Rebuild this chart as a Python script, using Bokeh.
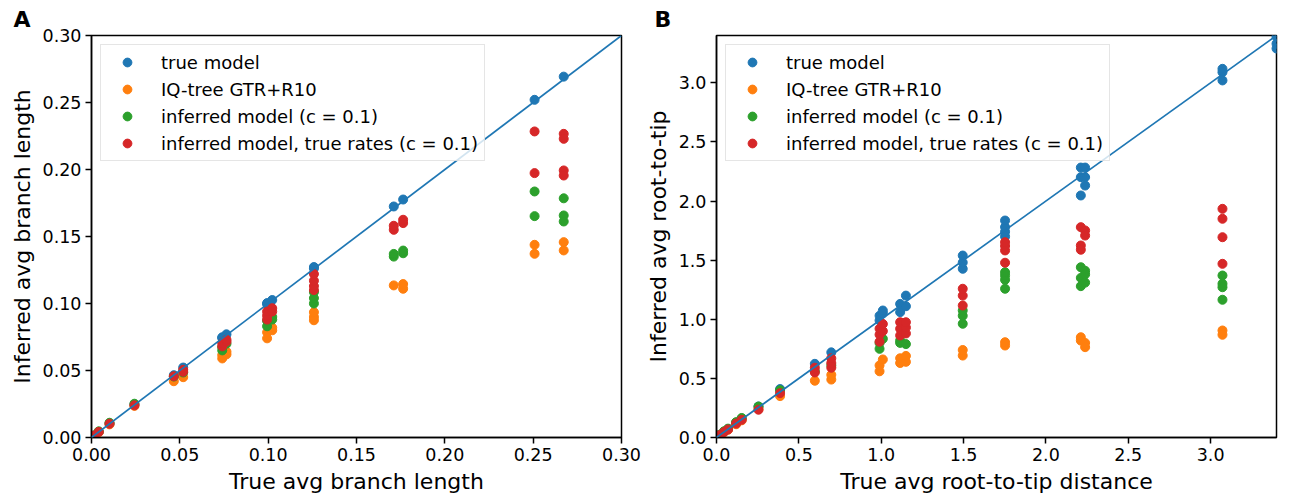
from bokeh.plotting import figure
from bokeh.layouts import row
from bokeh.models import (ColumnDataSource, Range1d, FixedTicker, NumeralTickFormatter,
                          Slope)
from bokeh.embed import file_html
from bokeh.resources import INLINE

# ---------------- data ----------------
series_names = ["true model", "IQ-tree GTR+R10", "inferred model (c = 0.1)",
                "inferred model, true rates (c = 0.1)"]
series_colors = ["#1f77b4", "#ff7f0e", "#2ca02c", "#d62728"]

# Panel A: average branch length
a_true_x = [0.0013, 0.0041, 0.0102, 0.0243, 0.0466, 0.0519, 0.0740, 0.0740, 0.0764, 0.0994,
            0.0994, 0.1023, 0.1259, 0.1259, 0.1711, 0.1764, 0.2508, 0.2673]
a_true_y = [0.0014, 0.0042, 0.0104, 0.0246, 0.0465, 0.0522, 0.0742, 0.0748, 0.0770, 0.0995,
            0.1003, 0.1026, 0.1262, 0.1272, 0.1724, 0.1776, 0.2520, 0.2693]
a_iq_x = [0.0013, 0.0041, 0.0102, 0.0243, 0.0466, 0.0519, 0.0740, 0.0740, 0.0764, 0.0764,
          0.0994, 0.0994, 0.1023, 0.1023, 0.1259, 0.1259, 0.1259, 0.1711, 0.1764, 0.1764,
          0.2508, 0.2508, 0.2673, 0.2673]
a_iq_y = [0.0012, 0.0039, 0.0098, 0.0236, 0.0420, 0.0450, 0.0590, 0.0615, 0.0620, 0.0640,
          0.0740, 0.0785, 0.0800, 0.0820, 0.0875, 0.0900, 0.0935, 0.1135, 0.1110, 0.1145,
          0.1438, 0.1371, 0.1458, 0.1396]
a_inf_x = [0.0013, 0.0041, 0.0102, 0.0243, 0.0466, 0.0519, 0.0740, 0.0740, 0.0764, 0.0994,
           0.0994, 0.1023, 0.1023, 0.1259, 0.1259, 0.1259, 0.1711, 0.1711, 0.1764, 0.1764,
           0.2508, 0.2508, 0.2673, 0.2673, 0.2673]
a_inf_y = [0.0015, 0.0046, 0.0110, 0.0252, 0.0455, 0.0485, 0.0650, 0.0675, 0.0700, 0.0830,
           0.0870, 0.0880, 0.0900, 0.1000, 0.1040, 0.1085, 0.1350, 0.1370, 0.1375, 0.1395,
           0.1836, 0.1652, 0.1785, 0.1657, 0.1612]
a_rates_x = [0.0013, 0.0041, 0.0102, 0.0243, 0.0466, 0.0519, 0.0519, 0.0740, 0.0740, 0.0764,
             0.0764, 0.0994, 0.0994, 0.0994, 0.1023, 0.1023, 0.1259, 0.1259, 0.1259, 0.1259,
             0.1711, 0.1711, 0.1764, 0.1764, 0.2508, 0.2508, 0.2673, 0.2673, 0.2673, 0.2673]
a_rates_y = [0.0013, 0.0042, 0.0103, 0.0240, 0.0457, 0.0490, 0.0505, 0.0680, 0.0705, 0.0715,
             0.0730, 0.0880, 0.0910, 0.0940, 0.0940, 0.0965, 0.1100, 0.1130, 0.1170, 0.1220,
             0.1550, 0.1580, 0.1600, 0.1625, 0.2284, 0.1973, 0.2266, 0.2229, 0.1993, 0.1955]

# Panel B: average root-to-tip distance
b_true_x = [0.018, 0.045, 0.070, 0.119, 0.153, 0.255, 0.386, 0.597, 0.697, 0.990, 0.990, 1.010,
            1.010, 1.115, 1.115, 1.150, 1.150, 1.495, 1.495, 1.495, 1.752, 1.752, 1.752, 1.752,
            2.212, 2.212, 2.212, 2.238, 2.238, 2.238, 3.072, 3.072, 3.072, 3.400, 3.400, 3.400,
            3.400]
b_true_y = [0.020, 0.048, 0.072, 0.125, 0.160, 0.262, 0.410, 0.623, 0.720, 0.990, 1.030, 1.050,
            1.074, 1.060, 1.130, 1.110, 1.200, 1.427, 1.480, 1.539, 1.700, 1.740, 1.780, 1.835,
            2.283, 2.202, 2.047, 2.283, 2.202, 2.131, 3.118, 3.090, 3.020, 3.510, 3.390, 3.330,
            3.290]
b_iq_x = [0.018, 0.045, 0.070, 0.119, 0.153, 0.255, 0.386, 0.597, 0.697, 0.697, 0.990, 0.990,
          1.010, 1.115, 1.115, 1.150, 1.150, 1.495, 1.495, 1.752, 1.752, 2.212, 2.212, 2.238,
          2.238, 3.072, 3.072]
b_iq_y = [0.018, 0.044, 0.066, 0.112, 0.145, 0.240, 0.350, 0.480, 0.490, 0.530, 0.560, 0.610,
          0.660, 0.630, 0.670, 0.640, 0.690, 0.693, 0.740, 0.778, 0.806, 0.848, 0.820, 0.800,
          0.764, 0.905, 0.869]
b_inf_x = [0.018, 0.045, 0.070, 0.119, 0.153, 0.255, 0.386, 0.597, 0.697, 0.990, 0.990, 1.010,
           1.115, 1.115, 1.150, 1.495, 1.495, 1.495, 1.752, 1.752, 1.752, 1.752, 2.212, 2.212,
           2.212, 2.238, 2.238, 2.238, 3.072, 3.072, 3.072, 3.072]
b_inf_y = [0.022, 0.052, 0.075, 0.130, 0.165, 0.262, 0.400, 0.560, 0.610, 0.750, 0.800, 0.835,
           0.800, 0.820, 0.790, 0.962, 1.030, 1.074, 1.258, 1.334, 1.370, 1.398, 1.440, 1.350,
           1.280, 1.410, 1.380, 1.310, 1.370, 1.300, 1.271, 1.165]
b_rates_x = [0.018, 0.045, 0.070, 0.119, 0.153, 0.255, 0.386, 0.597, 0.597, 0.697, 0.697, 0.697,
             0.990, 0.990, 0.990, 1.010, 1.010, 1.115, 1.115, 1.115, 1.150, 1.150, 1.150, 1.495,
             1.495, 1.495, 1.752, 1.752, 1.752, 1.752, 2.212, 2.212, 2.212, 2.238, 2.238, 3.072,
             3.072, 3.072, 3.072]
b_rates_y = [0.019, 0.046, 0.068, 0.118, 0.150, 0.235, 0.375, 0.550, 0.590, 0.590, 0.630, 0.670,
             0.810, 0.870, 0.920, 0.900, 0.960, 0.863, 0.920, 0.975, 0.880, 0.930, 0.975, 1.116,
             1.200, 1.258, 1.478, 1.582, 1.620, 1.652, 1.779, 1.624, 1.588, 1.751, 1.708, 1.934,
             1.850, 1.694, 1.469]

a_ticks = [0.0, 0.05, 0.10, 0.15, 0.20, 0.25, 0.30]
b_ticks = [0.0, 0.5, 1.0, 1.5, 2.0, 2.5, 3.0]
a_limit = 0.30
b_limit = 3.40

FONT = "DejaVu Sans"


def make_panel(letter, xs, ys, lim, ticks, fmt, xlabel, ylabel, width, border_left,
               border_right, letter_dx):
    p = figure(width=width, height=496, output_backend="svg", toolbar_location=None,
               x_range=Range1d(0, lim), y_range=Range1d(0, lim),
               min_border_left=border_left, min_border_right=border_right,
               min_border_top=35, min_border_bottom=59)
    p.xgrid.visible = False
    p.ygrid.visible = False
    p.outline_line_color = "black"
    p.outline_line_width = 1.5
    p.background_fill_color = "white"
    p.border_fill_color = "white"

    p.title.text = letter
    p.title.text_font = FONT
    p.title.text_font_size = "22px"
    p.title.text_font_style = "bold"
    p.title.text_color = "black"
    p.title.align = "left"
    p.title.offset = letter_dx
    p.title.standoff = 8

    p.add_layout(Slope(gradient=1, y_intercept=0, line_color="#1f77b4", line_width=1.7))

    for (x, y), name, col in zip(zip(xs, ys), series_names, series_colors):
        src = ColumnDataSource(dict(x=x, y=y))
        p.scatter("x", "y", source=src, size=9, color=col, line_color=col,
                  legend_label=name)

    for ax in (p.xaxis[0], p.yaxis[0]):
        ax.ticker = FixedTicker(ticks=ticks)
        ax.formatter = NumeralTickFormatter(format=fmt)
        ax.minor_tick_line_color = None
        ax.major_tick_out = 6
        ax.major_tick_in = 0
        ax.major_tick_line_width = 1.5
        ax.major_tick_line_color = "black"
        ax.axis_line_color = "black"
        ax.axis_line_width = 1.5
        ax.major_label_text_font = FONT
        ax.major_label_text_font_size = "17.5px"
        ax.major_label_text_color = "black"
        ax.major_label_standoff = 4
        ax.axis_label_text_font = FONT
        ax.axis_label_text_font_size = "22px"
        ax.axis_label_text_font_style = "normal"
        ax.axis_label_text_color = "black"
        ax.axis_label_standoff = 5
    p.xaxis.axis_label = xlabel
    p.yaxis.axis_label = ylabel

    lg = p.legend[0]
    lg.location = "top_left"
    lg.margin = 9
    lg.padding = 6
    lg.spacing = 5
    lg.glyph_width = 40
    lg.glyph_height = 22
    lg.label_height = 22
    lg.label_standoff = 14
    lg.label_text_font = FONT
    lg.label_text_font_size = "18px"
    lg.label_text_color = "black"
    lg.border_line_color = "#cccccc"
    lg.border_line_width = 1
    lg.background_fill_alpha = 0.8
    return p


pa = make_panel("A", [a_true_x, a_iq_x, a_inf_x, a_rates_x],
                [a_true_y, a_iq_y, a_inf_y, a_rates_y], a_limit, a_ticks, "0.00",
                "True avg branch length", "Inferred avg branch length", 642, 91, 21, -78)
pb = make_panel("B", [b_true_x, b_iq_x, b_inf_x, b_rates_x],
                [b_true_y, b_iq_y, b_inf_y, b_rates_y], b_limit, b_ticks, "0.0",
                "True avg root-to-tip distance", "Inferred avg root-to-tip", 648, 70, 14, -62)

layout = row(pa, pb, spacing=0)
open("out.html", "w").write(file_html(layout, INLINE))
